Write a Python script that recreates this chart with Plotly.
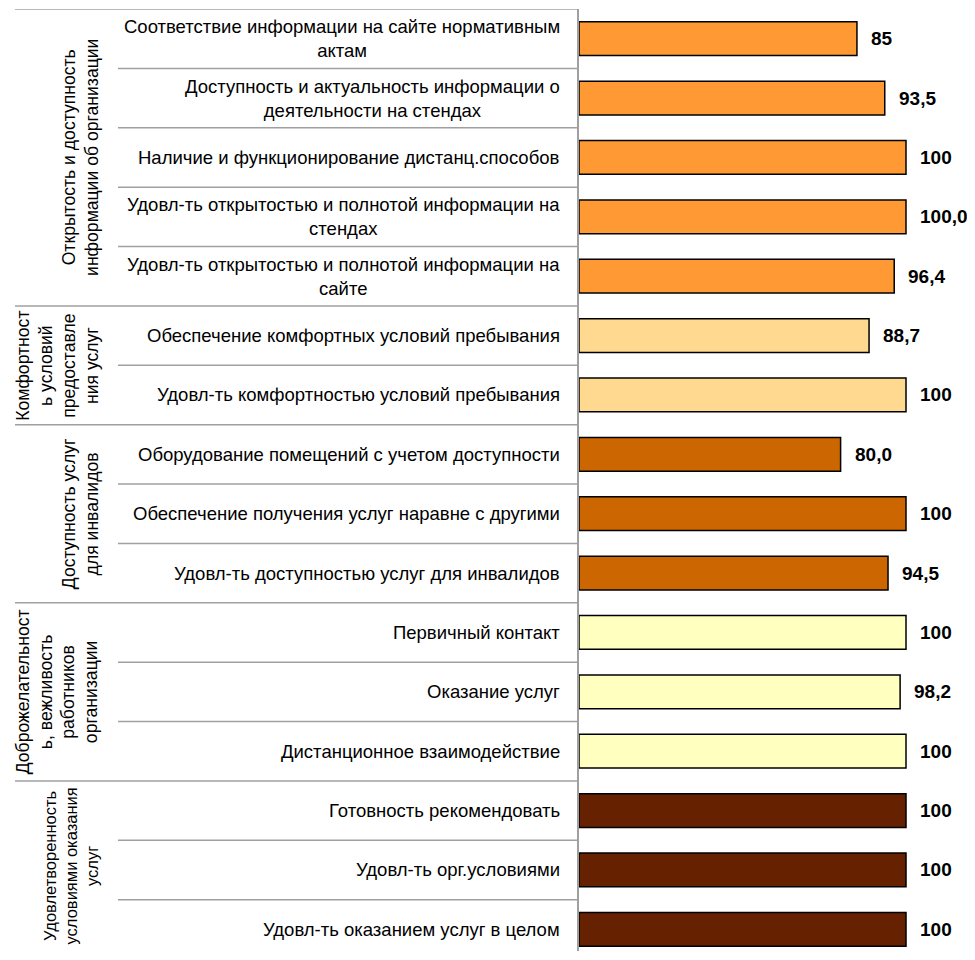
import plotly.graph_objects as go

# Показатели (сверху вниз)
categories = [
    "Соответствие информации на сайте нормативным<br>актам",
    "Доступность и актуальность информации о<br>деятельности на стендах",
    "Наличие и функционирование дистанц.способов",
    "Удовл-ть открытостью и полнотой информации на<br>стендах",
    "Удовл-ть открытостью и полнотой информации на<br>сайте",
    "Обеспечение комфортных условий пребывания",
    "Удовл-ть комфортностью условий пребывания",
    "Оборудование помещений с учетом доступности",
    "Обеспечение получения услуг наравне с другими",
    "Удовл-ть доступностью услуг для инвалидов",
    "Первичный контакт",
    "Оказание услуг",
    "Дистанционное взаимодействие",
    "Готовность рекомендовать",
    "Удовл-ть орг.условиями",
    "Удовл-ть оказанием услуг в целом",
]
values = [85, 93.5, 100, 100, 96.4, 88.7, 100, 80, 100, 94.5, 100, 98.2, 100, 100, 100, 100]
value_labels = ["85", "93,5", "100", "100,0", "96,4", "88,7", "100", "80,0", "100",
                "94,5", "100", "98,2", "100", "100", "100", "100"]

# Критерии: название, число показателей, цвет
group_names = [
    "Открытость и доступность<br>информации об организации",
    "Комфортност<br>ь условий<br>предоставле<br>ния услуг",
    "Доступность услуг<br>для инвалидов",
    "Доброжелательност<br>ь, вежливость<br>работников<br>организации",
    "Удовлетворенность<br>условиями оказания<br>услуг",
]
group_sizes = [5, 2, 3, 3, 3]
group_colors = ["#ff9933", "#ffd98f", "#cc6600", "#ffffc0", "#662200"]

# страница имеет отступ 8px у body; высота так, чтобы не было прокрутки
OFF = 8
W, H = 975 - 2 * OFF, 960 - 2 * OFF
L, R, T, B = 579 - OFF, 0, 9 - OFF, 1
plot_w = W - L - R
plot_h = H - T - B
ROW = 59.375  # высота строки в пикселях, как в оригинале (низ обрезан)
FONT = "Arial, Liberation Sans, sans-serif"


def px_x(px):
    # пиксель страницы по горизонтали -> координата paper
    return (px - OFF - L) / plot_w


bar_colors = []
for col, n in zip(group_colors, group_sizes):
    bar_colors += [col] * n

ypos = list(range(len(categories)))

fig = go.Figure()
fig.add_trace(go.Bar(
    y=ypos,
    x=values,
    orientation="h",
    marker=dict(color=bar_colors, line=dict(color="#000000", width=1.5)),
    width=0.57,
    hoverinfo="skip",
    cliponaxis=False,
))

# подписи значений справа от баров
for y, v, t in zip(ypos, values, value_labels):
    fig.add_annotation(x=v, y=y, text=f"<b>{t}</b>", showarrow=False,
                       xanchor="left", yanchor="middle", xshift=12,
                       font=dict(size=19, color="#000000", family=FONT))

# подписи показателей
for y, c in zip(ypos, categories):
    fig.add_annotation(xref="paper", x=px_x(562), y=y, text=c, showarrow=False,
                       xanchor="right", yanchor="middle", align="center",
                       font=dict(size=18.5, color="#000000", family=FONT))

# разделители и подписи критериев
line_col = "#a0a0a0"
start = 0
fig.add_shape(type="line", xref="paper", x0=px_x(15), x1=0, y0=-0.5, y1=-0.5,
              line=dict(color=line_col, width=1.5))
for i, (name, n) in enumerate(zip(group_names, group_sizes)):
    for k in range(1, n):
        yb = start + k - 0.5
        fig.add_shape(type="line", xref="paper", x0=px_x(118), x1=0, y0=yb, y1=yb,
                      line=dict(color=line_col, width=1.5))
    yb = start + n - 0.5
    fig.add_shape(type="line", xref="paper", x0=px_x(15), x1=0, y0=yb, y1=yb,
                  line=dict(color=line_col, width=1.5))
    # последний критерий: низ картинки обрезан, чуть меньше и выше
    last = i == len(group_names) - 1
    fig.add_annotation(xref="paper", x=px_x(104), y=start + (n - 1) / 2, text=name,
                       showarrow=False, textangle=-90, xanchor="right", yanchor="middle",
                       yshift=4 if last else 0, align="center",
                       font=dict(size=16.5 if last else 17.6, color="#000000", family=FONT))
    start += n

fig.update_layout(
    width=W, height=H,
    margin=dict(l=L, r=R, t=T, b=B),
    paper_bgcolor="white", plot_bgcolor="white",
    showlegend=False,
    xaxis=dict(range=[0, plot_w / 3.27], visible=False),
    yaxis=dict(range=[plot_h / ROW - 0.5, -0.5], showticklabels=False, showgrid=False,
               zeroline=False, showline=True, linecolor=line_col, linewidth=1.5, ticks=""),
)

fig.write_html("out.html")
